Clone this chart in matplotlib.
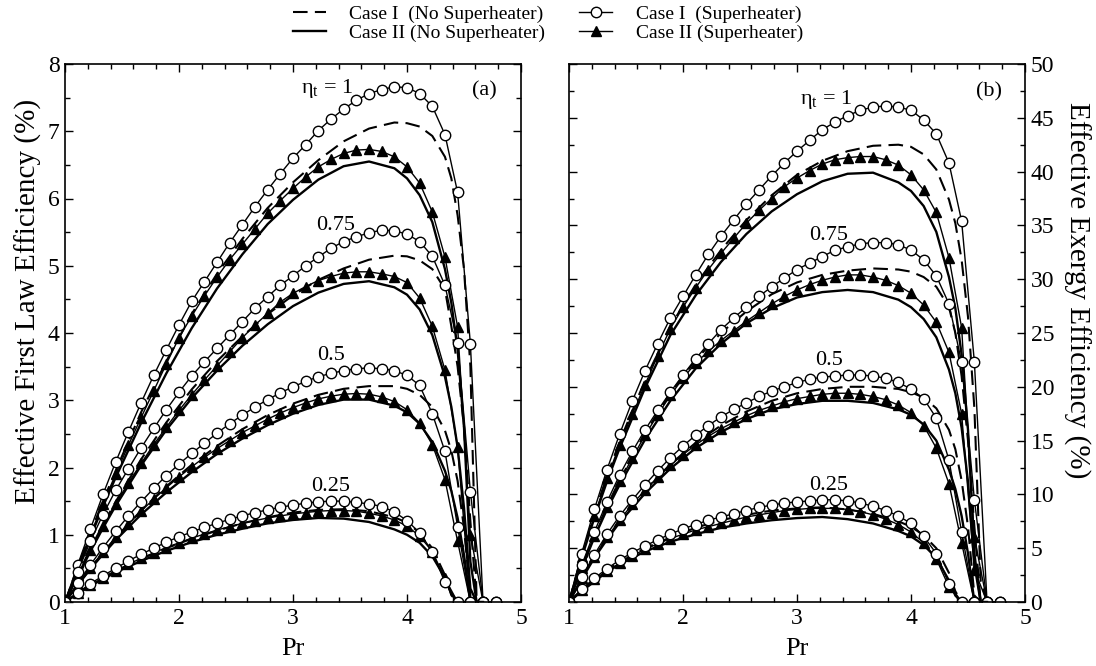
import matplotlib
matplotlib.use("Agg")
import matplotlib.pyplot as plt
from matplotlib.ticker import MultipleLocator
from matplotlib.lines import Line2D

plt.rcParams['font.family'] = ['Liberation Serif', 'DejaVu Serif']
plt.rcParams['mathtext.fontset'] = 'stix'

# pressure ratio grid of the marker series (step 1/9) and of the plain lines
PR_M = [1.0, 1.111, 1.222, 1.333, 1.444, 1.556, 1.667, 1.778, 1.889, 2.0,
        2.111, 2.222, 2.333, 2.444, 2.556, 2.667, 2.778, 2.889, 3.0, 3.111,
        3.222, 3.333, 3.444, 3.556, 3.667, 3.778, 3.889, 4.0, 4.111, 4.222,
        4.333, 4.444, 4.556, 4.667, 4.778]
PR_L = [1.0, 1.111, 1.222, 1.333, 1.444, 1.667, 1.889, 2.111, 2.333, 2.556,
        2.778, 3.0, 3.222, 3.444, 3.667, 3.889, 4.0, 4.111, 4.222, 4.333,
        4.389, 4.444, 4.5, 4.556, 4.611, 4.667]

ETA = ['1', '0.75', '0.5', '0.25']

# ---- (a) first law efficiency, % ----
a_c1_sh = {
    '1': [0, 0.55, 1.08, 1.60, 2.08, 2.53, 2.96, 3.37, 3.75, 4.12, 4.47, 4.76, 5.05, 5.34, 5.61, 5.88, 6.13, 6.37,
          6.60, 6.80, 7.01, 7.18, 7.33, 7.46, 7.56, 7.62, 7.66, 7.65, 7.56, 7.37, 6.95, 6.09, 3.84, 0, 0],
    '0.75': [0, 0.45, 0.90, 1.30, 1.66, 1.98, 2.29, 2.58, 2.86, 3.12, 3.36, 3.57, 3.77, 3.97, 4.17, 4.37, 4.54, 4.71,
             4.85, 5.00, 5.13, 5.26, 5.36, 5.43, 5.49, 5.53, 5.52, 5.47, 5.36, 5.14, 4.71, 3.85, 1.64, 0, 0],
    '0.5': [0, 0.28, 0.55, 0.81, 1.05, 1.28, 1.49, 1.69, 1.88, 2.05, 2.21, 2.36, 2.51, 2.65, 2.78, 2.90, 3.01, 3.11,
            3.20, 3.28, 3.35, 3.40, 3.44, 3.47, 3.48, 3.47, 3.44, 3.37, 3.22, 2.80, 2.24, 1.12, 0, 0],
    '0.25': [0, 0.14, 0.27, 0.39, 0.50, 0.61, 0.71, 0.80, 0.89, 0.97, 1.04, 1.11, 1.17, 1.23, 1.28, 1.33, 1.37, 1.41,
             1.44, 1.47, 1.49, 1.50, 1.50, 1.48, 1.46, 1.42, 1.34, 1.21, 1.03, 0.75, 0.29, 0, 0],
}
a_c2_sh = {
    '1': [0, 0.50, 1.00, 1.46, 1.90, 2.33, 2.74, 3.14, 3.54, 3.93, 4.25, 4.55, 4.83, 5.09, 5.32, 5.55, 5.78, 5.97,
          6.15, 6.32, 6.47, 6.58, 6.67, 6.72, 6.73, 6.70, 6.62, 6.47, 6.23, 5.80, 5.13, 4.09, 1.0, 0],
    '0.75': [0, 0.40, 0.78, 1.13, 1.46, 1.77, 2.06, 2.34, 2.60, 2.85, 3.08, 3.30, 3.51, 3.72, 3.93, 4.12, 4.29, 4.46,
             4.59, 4.69, 4.78, 4.84, 4.89, 4.91, 4.91, 4.88, 4.84, 4.75, 4.52, 4.10, 3.45, 2.30, 0],
    '0.5': [0, 0.26, 0.51, 0.74, 0.96, 1.16, 1.35, 1.53, 1.70, 1.86, 2.01, 2.15, 2.28, 2.40, 2.52, 2.62, 2.72, 2.81,
            2.89, 2.96, 3.02, 3.06, 3.09, 3.10, 3.09, 3.05, 2.98, 2.86, 2.66, 2.34, 1.82, 0.9, 0],
    '0.25': [0, 0.13, 0.25, 0.36, 0.46, 0.56, 0.65, 0.73, 0.81, 0.88, 0.95, 1.01, 1.07, 1.12, 1.17, 1.21, 1.25, 1.28,
             1.31, 1.33, 1.35, 1.36, 1.36, 1.35, 1.32, 1.28, 1.22, 1.13, 0.98, 0.75, 0.35, 0],
}
a_c1 = {
    '1': [0, 0.52, 1.02, 1.50, 1.95, 2.82, 3.58, 4.28, 4.88, 5.40, 5.86, 6.24, 6.57, 6.85, 7.04, 7.13, 7.12, 7.07,
          6.93, 6.62, 6.30, 5.75, 4.95, 3.5, 0, 0],
    '0.75': [0, 0.40, 0.79, 1.15, 1.49, 2.12, 2.67, 3.16, 3.58, 3.95, 4.28, 4.56, 4.79, 4.96, 5.09, 5.15, 5.14, 5.08,
             4.95, 4.65, 4.10, 3.50, 2.60, 1.2, 0, 0],
    '0.5': [0, 0.25, 0.50, 0.73, 0.95, 1.36, 1.72, 2.04, 2.32, 2.57, 2.78, 2.95, 3.08, 3.17, 3.21, 3.21, 3.17, 3.08,
            2.90, 2.55, 2.25, 1.8, 1.1, 0.1, 0, 0],
    '0.25': [0, 0.13, 0.25, 0.36, 0.46, 0.64, 0.80, 0.94, 1.06, 1.17, 1.26, 1.33, 1.37, 1.38, 1.35, 1.26, 1.18, 1.03,
             0.80, 0.40, 0.1, 0, 0, 0, 0, 0],
}
a_c2 = {
    '1': [0, 0.48, 0.96, 1.42, 1.85, 2.66, 3.40, 4.07, 4.66, 5.17, 5.62, 5.98, 6.28, 6.48, 6.55, 6.45, 6.30, 6.05,
          5.65, 4.95, 4.45, 3.75, 2.6, 0.6, 0, 0],
    '0.75': [0, 0.38, 0.75, 1.10, 1.43, 2.03, 2.56, 3.03, 3.44, 3.81, 4.13, 4.40, 4.60, 4.73, 4.77, 4.68, 4.57, 4.35,
             3.97, 3.35, 2.9, 2.3, 1.4, 0.2, 0, 0],
    '0.5': [0, 0.25, 0.49, 0.71, 0.92, 1.30, 1.63, 1.93, 2.20, 2.43, 2.63, 2.80, 2.93, 3.01, 3.01, 2.92, 2.82, 2.65,
            2.38, 1.95, 1.65, 1.25, 0.7, 0, 0, 0],
    '0.25': [0, 0.12, 0.24, 0.34, 0.44, 0.61, 0.76, 0.89, 1.00, 1.09, 1.17, 1.22, 1.25, 1.24, 1.19, 1.08, 1.00, 0.88,
             0.68, 0.36, 0.12, 0, 0, 0, 0, 0],
}

# ---- (b) exergy efficiency, % ----
b_c1_sh = {
    '1': [0, 4.5, 8.6, 12.3, 15.6, 18.7, 21.5, 24.0, 26.4, 28.4, 30.4, 32.3, 34.0, 35.5, 37.0, 38.3, 39.6, 40.8,
          41.9, 42.9, 43.9, 44.6, 45.2, 45.7, 46.0, 46.1, 46.0, 45.7, 44.8, 43.5, 40.8, 35.4, 22.3, 0, 0],
    '0.75': [0, 3.4, 6.5, 9.3, 11.8, 14.0, 16.0, 17.8, 19.5, 21.1, 22.6, 24.0, 25.3, 26.4, 27.4, 28.4, 29.3, 30.1,
             30.9, 31.5, 32.1, 32.7, 33.0, 33.3, 33.4, 33.4, 33.2, 32.7, 31.8, 30.3, 27.7, 22.3, 9.5, 0, 0],
    '0.5': [0, 2.3, 4.4, 6.3, 8.0, 9.5, 10.9, 12.2, 13.4, 14.5, 15.5, 16.4, 17.2, 17.9, 18.5, 19.1, 19.6, 20.0,
            20.4, 20.7, 20.9, 21.0, 21.1, 21.1, 21.0, 20.8, 20.4, 19.8, 18.9, 17.1, 13.2, 6.5, 0, 0],
    '0.25': [0, 1.2, 2.2, 3.1, 3.9, 4.6, 5.2, 5.8, 6.3, 6.8, 7.2, 7.6, 7.9, 8.2, 8.5, 8.8, 9.0, 9.2,
             9.3, 9.4, 9.5, 9.5, 9.4, 9.2, 8.9, 8.5, 8.0, 7.3, 6.1, 4.5, 1.7, 0, 0],
}
b_c2_sh = {
    '1': [0, 4.2, 8.0, 11.5, 14.6, 17.5, 20.2, 22.9, 25.4, 27.4, 29.2, 30.9, 32.4, 33.8, 35.2, 36.4, 37.5, 38.6,
          39.4, 40.1, 40.7, 41.1, 41.3, 41.4, 41.4, 41.1, 40.6, 39.7, 38.3, 36.2, 32.0, 25.5, 6.0, 0],
    '0.75': [0, 3.2, 6.1, 8.8, 11.2, 13.4, 15.5, 17.4, 19.2, 20.8, 22.2, 23.3, 24.3, 25.2, 26.1, 26.9, 27.7, 28.4,
             29.0, 29.5, 29.9, 30.2, 30.4, 30.4, 30.2, 29.9, 29.4, 28.7, 27.6, 26.0, 23.2, 17.5, 3.0, 0],
    '0.5': [0, 2.2, 4.2, 6.0, 7.6, 9.1, 10.4, 11.6, 12.7, 13.7, 14.6, 15.4, 16.1, 16.7, 17.3, 17.8, 18.2, 18.6,
            18.9, 19.1, 19.3, 19.4, 19.4, 19.3, 19.1, 18.8, 18.3, 17.6, 16.4, 14.3, 11.0, 5.5, 0],
    '0.25': [0, 1.1, 2.1, 2.9, 3.6, 4.3, 4.9, 5.4, 5.9, 6.3, 6.7, 7.0, 7.3, 7.6, 7.9, 8.1, 8.3, 8.5,
             8.6, 8.7, 8.7, 8.7, 8.6, 8.4, 8.1, 7.7, 7.2, 6.5, 5.5, 4.0, 1.4, 0],
}
b_c1 = {
    '1': [0, 4.3, 8.2, 11.7, 14.9, 20.6, 25.6, 29.5, 32.7, 35.5, 37.8, 39.7, 41.0, 41.9, 42.4, 42.5, 42.3, 41.6,
          40.2, 37.4, 35.2, 31.8, 26.5, 18.0, 2.0, 0],
    '0.75': [0, 3.2, 6.2, 8.9, 11.3, 15.7, 19.4, 22.5, 25.0, 27.0, 28.6, 29.7, 30.4, 30.8, 31.0, 30.9, 30.7, 30.2,
             29.3, 27.4, 25.0, 21.0, 15.0, 7.0, 0, 0],
    '0.5': [0, 2.2, 4.2, 6.0, 7.6, 10.4, 12.8, 14.8, 16.4, 17.7, 18.7, 19.4, 19.8, 20.0, 20.0, 19.8, 19.5, 19.0,
            18.0, 16.0, 14.2, 11.3, 7.0, 0.6, 0, 0],
    '0.25': [0, 1.1, 2.1, 3.0, 3.7, 5.0, 6.0, 6.9, 7.6, 8.1, 8.5, 8.7, 8.8, 8.6, 8.2, 7.5, 7.0, 6.2,
             5.0, 2.7, 1.0, 0, 0, 0, 0, 0],
}
b_c2 = {
    '1': [0, 4.1, 7.8, 11.2, 14.3, 19.9, 24.8, 28.5, 31.6, 34.2, 36.3, 37.9, 39.1, 39.8, 39.9, 39.0, 38.2, 36.8,
          34.4, 30.2, 27.3, 23.0, 16.0, 4.5, 0, 0],
    '0.75': [0, 3.1, 6.0, 8.6, 10.9, 15.1, 18.7, 21.7, 24.0, 25.9, 27.3, 28.3, 28.8, 29.0, 28.8, 28.1, 27.4, 26.3,
             24.6, 21.6, 19.4, 16.2, 11.2, 3.5, 0, 0],
    '0.5': [0, 2.1, 4.1, 5.8, 7.4, 10.1, 12.4, 14.3, 15.8, 17.0, 17.9, 18.4, 18.7, 18.7, 18.5, 17.9, 17.4, 16.5,
            15.0, 12.3, 10.5, 8.0, 4.5, 0, 0, 0],
    '0.25': [0, 1.0, 1.9, 2.8, 3.5, 4.7, 5.6, 6.3, 6.9, 7.3, 7.6, 7.8, 7.9, 7.7, 7.3, 6.6, 6.1, 5.3,
             4.1, 2.0, 0.6, 0, 0, 0, 0, 0],
}

# curve labels: (eta text, Pr, value) per panel
a_labels = [('η$_\\mathregular{t}$ = 1', 3.30, 7.64), ('0.75', 3.37, 5.60), ('0.5', 3.33, 3.66), ('0.25', 3.33, 1.72)]
b_labels = [('η$_\\mathregular{t}$ = 1', 3.26, 46.7), ('0.75', 3.28, 34.1), ('0.5', 3.28, 22.4), ('0.25', 3.28, 10.8)]

fig = plt.figure(figsize=(10.96, 6.66), dpi=100)
axa = fig.add_axes([65 / 1096, 64 / 666, 456 / 1096, 538 / 666])
axb = fig.add_axes([569 / 1096, 64 / 666, 456 / 1096, 538 / 666])


def draw(ax, c1sh, c2sh, c1, c2, labels, ymax, ymaj, ymin):
    for e in ETA:
        ax.plot(PR_L[:len(c1[e])], c1[e], color='k', lw=1.5, dashes=(7, 3.5))
        ax.plot(PR_L[:len(c2[e])], c2[e], color='k', lw=1.7)
        ax.plot(PR_M[:len(c2sh[e])], c2sh[e], color='k', lw=1.0, marker='^',
                ms=7, mfc='k', mec='k')
        ax.plot(PR_M[:len(c1sh[e])], c1sh[e], color='k', lw=1.0, marker='o',
                ms=7.5, mfc='white', mec='k', mew=1.0)
    for txt, x, y in labels:
        ax.text(x, y, txt, ha='center', va='center', fontsize=16)
    ax.set_xlim(1, 5)
    ax.set_ylim(0, ymax)
    ax.xaxis.set_major_locator(MultipleLocator(1))
    ax.xaxis.set_minor_locator(MultipleLocator(0.2))
    ax.yaxis.set_major_locator(MultipleLocator(ymaj))
    ax.yaxis.set_minor_locator(MultipleLocator(ymin))
    ax.tick_params(which='both', direction='in', top=True, right=True, labelsize=17,
                   width=1.0, pad=4)
    ax.tick_params(which='major', length=6)
    ax.tick_params(which='minor', length=3.5)
    for s in ax.spines.values():
        s.set_linewidth(1.2)
    ax.set_xlabel('Pr', fontsize=19, labelpad=7)


draw(axa, a_c1_sh, a_c2_sh, a_c1, a_c2, a_labels, 8, 1, 0.5)
draw(axb, b_c1_sh, b_c2_sh, b_c1, b_c2, b_labels, 50, 5, 2.5)

axa.set_ylabel('Effective First Law Efficiency (%)', fontsize=21, labelpad=4)
axa.yaxis.label.set_y(0.558)
axa.text(4.68, 7.6, '(a)', ha='center', va='center', fontsize=16)
axb.text(4.68, 47.4, '(b)', ha='center', va='center', fontsize=16)
axb.yaxis.tick_right()
axb.tick_params(which='both', left=True, labelleft=False, labelright=True)
axb.yaxis.set_label_position('right')
axb.set_ylabel('Effective Exergy Efficiency (%)', fontsize=21, rotation=270, labelpad=26)
axb.yaxis.label.set_y(0.58)

handles = [
    Line2D([], [], color='k', lw=1.5, dashes=(7, 3.5)),
    Line2D([], [], color='k', lw=1.7),
    Line2D([], [], color='k', lw=1.0, marker='o', ms=7.5, mfc='white', mec='k'),
    Line2D([], [], color='k', lw=1.0, marker='^', ms=7, mfc='k', mec='k'),
]
names = ['Case I  (No Superheater)', 'Case II (No Superheater)',
         'Case I  (Superheater)', 'Case II (Superheater)']
fig.legend(handles, names, loc='upper center', bbox_to_anchor=(0.5, 1.018), ncol=2,
           frameon=False, fontsize=14, handlelength=1.7, columnspacing=1.75,
           labelspacing=0.05, handletextpad=1.2)

fig.savefig('out.png', dpi=100)
